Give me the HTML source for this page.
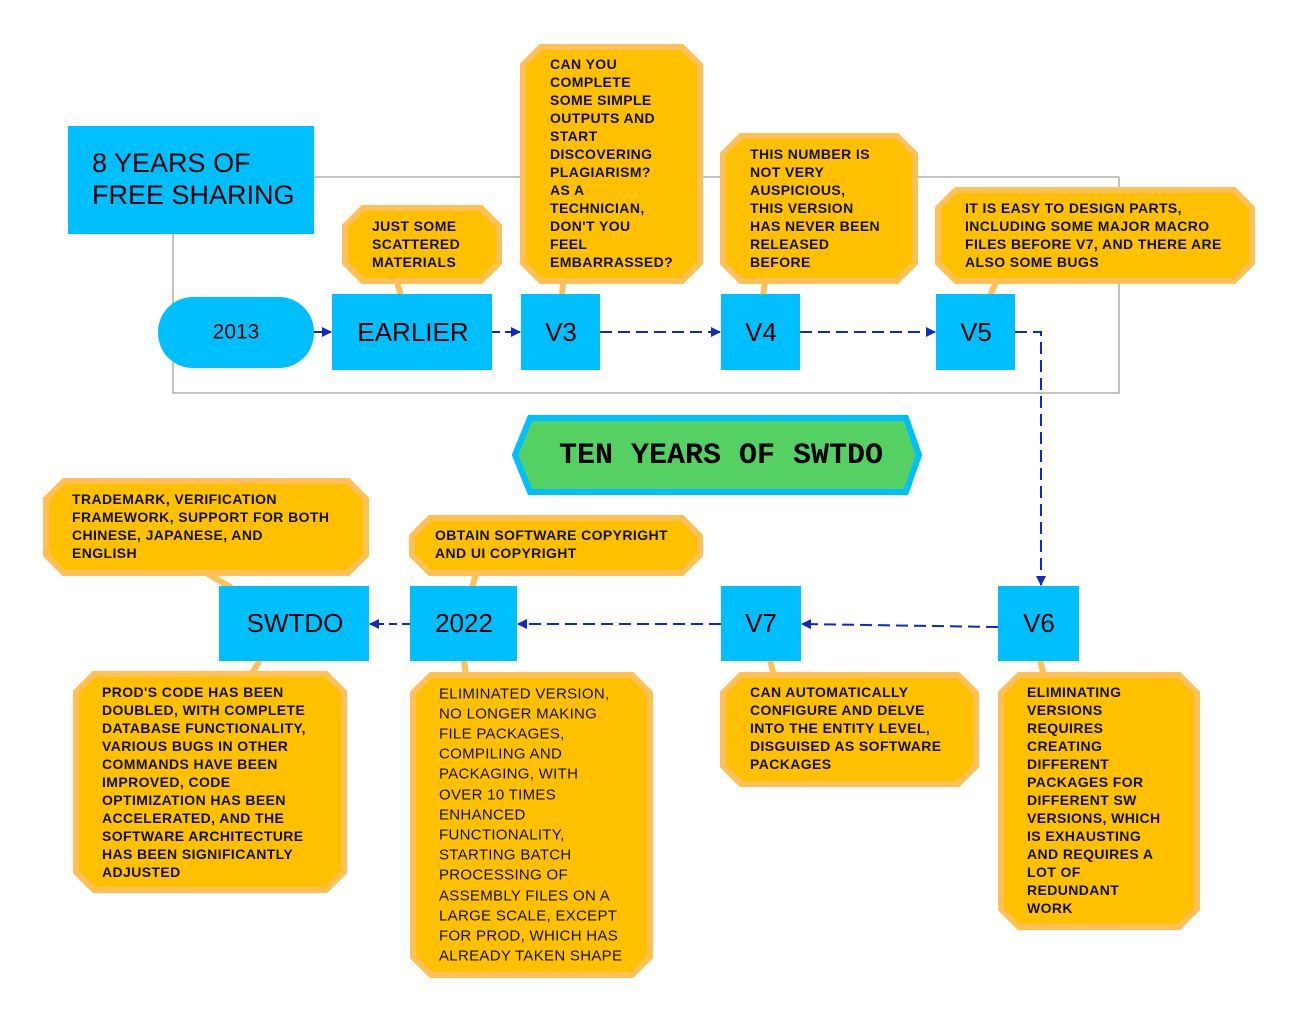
<!DOCTYPE html>
<html><head><meta charset="utf-8"><style>
html,body{margin:0;padding:0;background:#fff;}
svg{display:block}
.c{fill:#FFC000;stroke:#FFC057;stroke-width:6;stroke-linejoin:miter}
.t{font-family:"Liberation Sans",sans-serif;font-size:14px;font-weight:bold;fill:#111;dominant-baseline:central;letter-spacing:0.4px}
.n{fill:#00BFFF}
.nl{font-family:"Liberation Sans",sans-serif;font-size:26px;fill:#000;text-anchor:middle;dominant-baseline:central}
.a{stroke:#1228C4;stroke-width:2;fill:none;stroke-dasharray:12,6}
.s{stroke:#FFC057;stroke-width:6}
</style></head><body>
<svg width="1298" height="1023" viewBox="0 0 1298 1023" xmlns="http://www.w3.org/2000/svg">
<defs><marker id="ar" markerWidth="10" markerHeight="10" refX="9" refY="5" orient="auto" markerUnits="userSpaceOnUse"><path d="M0,0 L10,5 L0,10 z" fill="#1228C4"/></marker></defs>
<rect x="173" y="177" width="946" height="216" fill="none" stroke="#888" stroke-width="1"/>
<line class="s" x1="397" y1="282" x2="401" y2="296"/>
<line class="s" x1="563" y1="282" x2="562" y2="296"/>
<line class="s" x1="765" y1="282" x2="763" y2="296"/>
<line class="s" x1="996" y1="282" x2="990" y2="296"/>
<line class="s" x1="208" y1="574" x2="232" y2="588"/>
<line class="s" x1="476" y1="574" x2="472" y2="588"/>
<line class="s" x1="260" y1="660" x2="250" y2="676"/>
<line class="s" x1="464" y1="660" x2="466" y2="676"/>
<line class="s" x1="770" y1="660" x2="774" y2="676"/>
<line class="s" x1="1040" y1="660" x2="1044" y2="676"/>
<polygon class="c" points="363,208 481,208 499,226 499,263 481,281 363,281 345,263 345,226"/>
<polygon class="c" points="541,47 682,47 700,65 700,263 682,281 541,281 523,263 523,65"/>
<polygon class="c" points="741,136 897,136 915,154 915,263 897,281 741,281 723,263 723,154"/>
<polygon class="c" points="956,190 1234,190 1252,208 1252,263 1234,281 956,281 938,263 938,208"/>
<polygon class="c" points="64,481 348,481 366,499 366,555 348,573 64,573 46,555 46,499"/>
<polygon class="c" points="430,518 682,518 700,536 700,555 682,573 430,573 412,555 412,536"/>
<polygon class="c" points="94,674 326,674 344,692 344,872 326,890 94,890 76,872 76,692"/>
<polygon class="c" points="431,675 632,675 650,693 650,957 632,975 431,975 413,957 413,693"/>
<polygon class="c" points="741,675 958,675 976,693 976,766 958,784 741,784 723,766 723,693"/>
<polygon class="c" points="1019,675 1179,675 1197,693 1197,909 1179,927 1019,927 1001,909 1001,693"/>
<g class="t">
<text x="372" y="226">JUST SOME</text><text x="372" y="244">SCATTERED</text><text x="372" y="262">MATERIALS</text>
<text x="550" y="64">CAN YOU</text><text x="550" y="82">COMPLETE</text><text x="550" y="100">SOME SIMPLE</text><text x="550" y="118">OUTPUTS AND</text><text x="550" y="136">START</text><text x="550" y="154">DISCOVERING</text><text x="550" y="172">PLAGIARISM?</text><text x="550" y="190">AS A</text><text x="550" y="208">TECHNICIAN,</text><text x="550" y="226">DON'T YOU</text><text x="550" y="244">FEEL</text><text x="550" y="262">EMBARRASSED?</text>
<text x="750" y="154">THIS NUMBER IS</text><text x="750" y="172">NOT VERY</text><text x="750" y="190">AUSPICIOUS,</text><text x="750" y="208">THIS VERSION</text><text x="750" y="226">HAS NEVER BEEN</text><text x="750" y="244">RELEASED</text><text x="750" y="262">BEFORE</text>
<text x="965" y="208">IT IS EASY TO DESIGN PARTS,</text><text x="965" y="226">INCLUDING SOME MAJOR MACRO</text><text x="965" y="244">FILES BEFORE V7, AND THERE ARE</text><text x="965" y="262">ALSO SOME BUGS</text>
<text x="72" y="499">TRADEMARK, VERIFICATION</text><text x="72" y="517">FRAMEWORK, SUPPORT FOR BOTH</text><text x="72" y="535">CHINESE, JAPANESE, AND</text><text x="72" y="553">ENGLISH</text>
<text x="435" y="535">OBTAIN SOFTWARE COPYRIGHT</text><text x="435" y="553">AND UI COPYRIGHT</text>
<text x="102" y="692">PROD'S CODE HAS BEEN</text><text x="102" y="710">DOUBLED, WITH COMPLETE</text><text x="102" y="728">DATABASE FUNCTIONALITY,</text><text x="102" y="746">VARIOUS BUGS IN OTHER</text><text x="102" y="764">COMMANDS HAVE BEEN</text><text x="102" y="782">IMPROVED, CODE</text><text x="102" y="800">OPTIMIZATION HAS BEEN</text><text x="102" y="818">ACCELERATED, AND THE</text><text x="102" y="836">SOFTWARE ARCHITECTURE</text><text x="102" y="854">HAS BEEN SIGNIFICANTLY</text><text x="102" y="872">ADJUSTED</text>
</g>
<g class="t" style="font-weight:normal;font-size:15px;letter-spacing:0.3px">
<text x="439" y="694">ELIMINATED VERSION,</text><text x="439" y="714">NO LONGER MAKING</text><text x="439" y="734">FILE PACKAGES,</text><text x="439" y="754">COMPILING AND</text><text x="439" y="774">PACKAGING, WITH</text><text x="439" y="795">OVER 10 TIMES</text><text x="439" y="815">ENHANCED</text><text x="439" y="835">FUNCTIONALITY,</text><text x="439" y="855">STARTING BATCH</text><text x="439" y="875">PROCESSING OF</text><text x="439" y="896">ASSEMBLY FILES ON A</text><text x="439" y="916">LARGE SCALE, EXCEPT</text><text x="439" y="936">FOR PROD, WHICH HAS</text><text x="439" y="956">ALREADY TAKEN SHAPE</text>
</g>
<g class="t">
<text x="750" y="692">CAN AUTOMATICALLY</text><text x="750" y="710">CONFIGURE AND DELVE</text><text x="750" y="728">INTO THE ENTITY LEVEL,</text><text x="750" y="746">DISGUISED AS SOFTWARE</text><text x="750" y="764">PACKAGES</text>
<text x="1027" y="692">ELIMINATING</text><text x="1027" y="710">VERSIONS</text><text x="1027" y="728">REQUIRES</text><text x="1027" y="746">CREATING</text><text x="1027" y="764">DIFFERENT</text><text x="1027" y="782">PACKAGES FOR</text><text x="1027" y="800">DIFFERENT SW</text><text x="1027" y="818">VERSIONS, WHICH</text><text x="1027" y="836">IS EXHAUSTING</text><text x="1027" y="854">AND REQUIRES A</text><text x="1027" y="872">LOT OF</text><text x="1027" y="890">REDUNDANT</text><text x="1027" y="908">WORK</text>
</g>
<rect class="n" x="68" y="126" width="246" height="108"/>
<text x="92" y="163" style="font-family:'Liberation Sans',sans-serif;font-size:27px;dominant-baseline:central">8 YEARS OF</text>
<text x="92" y="195" style="font-family:'Liberation Sans',sans-serif;font-size:27px;dominant-baseline:central">FREE SHARING</text>
<rect class="n" x="158" y="297" width="156" height="71" rx="35"/>
<text class="nl" x="236" y="332" style="font-size:21px">2013</text>
<rect class="n" x="332" y="294" width="160" height="76"/><text class="nl" x="413" y="332">EARLIER</text>
<rect class="n" x="521" y="294" width="79" height="76"/><text class="nl" x="561" y="332">V3</text>
<rect class="n" x="721" y="294" width="79" height="76"/><text class="nl" x="761" y="332">V4</text>
<rect class="n" x="936" y="294" width="79" height="76"/><text class="nl" x="976" y="332">V5</text>
<rect class="n" x="998" y="586" width="81" height="75"/><text class="nl" x="1039" y="623">V6</text>
<rect class="n" x="721" y="586" width="80" height="75"/><text class="nl" x="761" y="623">V7</text>
<rect class="n" x="410" y="586" width="107" height="75"/><text class="nl" x="464" y="623">2022</text>
<rect class="n" x="219" y="586" width="150" height="75"/><text class="nl" x="295" y="623">SWTDO</text>
<line x1="314" y1="332" x2="331" y2="332" stroke="#1228C4" stroke-width="2" marker-end="url(#ar)"/>
<line class="a" x1="492" y1="332" x2="520" y2="332" marker-end="url(#ar)" style="stroke-dasharray:8,5"/>
<line class="a" x1="600" y1="332" x2="720" y2="332" marker-end="url(#ar)"/>
<line class="a" x1="800" y1="332" x2="935" y2="332" marker-end="url(#ar)"/>
<polyline class="a" points="1015,332 1041,332 1041,585" marker-end="url(#ar)"/>
<line class="a" x1="998" y1="627" x2="802" y2="624" marker-end="url(#ar)"/>
<line class="a" x1="721" y1="624" x2="518" y2="624" marker-end="url(#ar)"/>
<line class="a" x1="410" y1="624" x2="370" y2="624" marker-end="url(#ar)" style="stroke-dasharray:8,5"/>
<polygon points="530,418 906,418 919,455 906,492 530,492 515,455" fill="#55D163" stroke="#00BFFF" stroke-width="6"/>
<text x="721" y="456" style="font-family:'Liberation Mono',monospace;font-size:30px;font-weight:bold;text-anchor:middle;dominant-baseline:central">TEN YEARS OF SWTDO</text>
</svg>
</body></html>
